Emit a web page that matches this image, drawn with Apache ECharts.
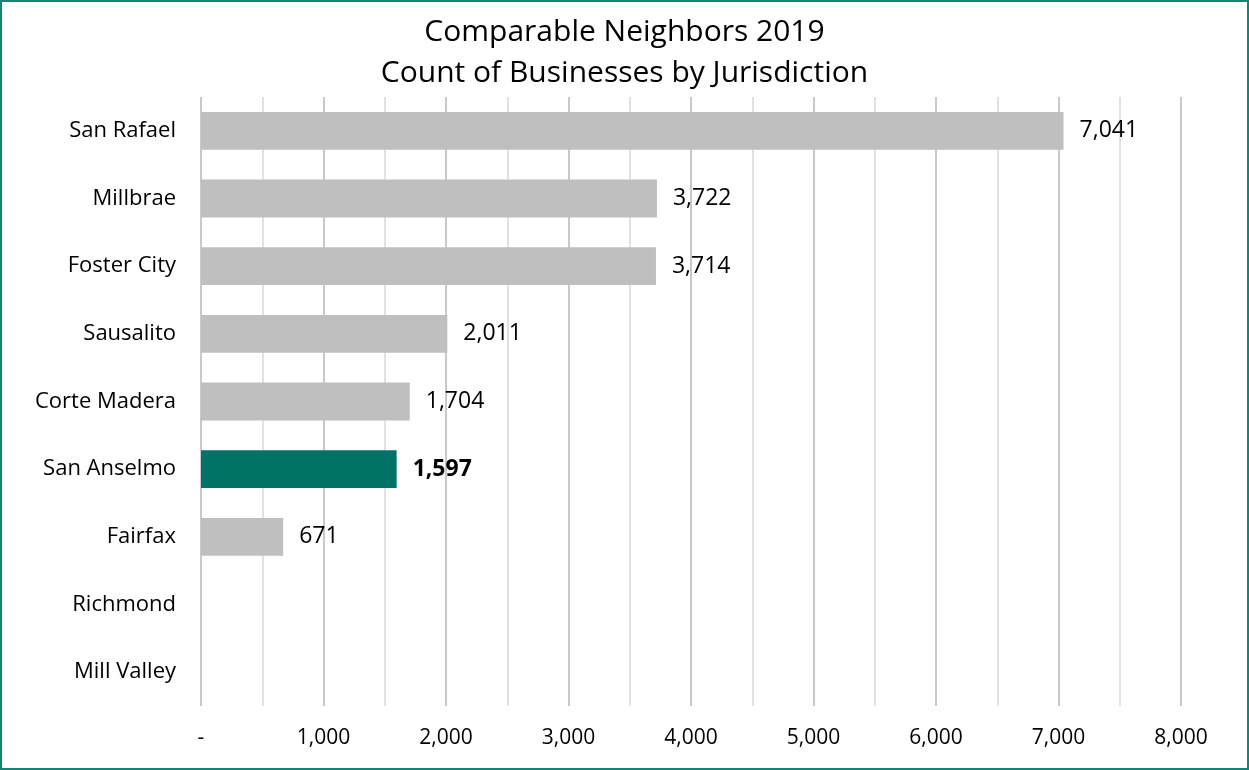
<!DOCTYPE html>
<html>
<head>
<meta charset="utf-8">
<script src="https://cdn.jsdelivr.net/npm/echarts@6/dist/echarts.min.js"></script>
<style>
  html, body { margin: 0; padding: 0; background: #fff; }
  #chart { width: 1249px; height: 770px; }
</style>
</head>
<body>
<div id="chart"></div>
<script>
// Jurisdictions, top to bottom
const categories = ['San Rafael', 'Millbrae', 'Foster City', 'Sausalito', 'Corte Madera', 'San Anselmo', 'Fairfax', 'Richmond', 'Mill Valley'];
// Count of businesses (no data for Richmond and Mill Valley)
const counts = [7041, 3722, 3714, 2011, 1704, 1597, 671, null, null];
const highlight = 'San Anselmo';

const FONT = '"Open Sans", "Noto Sans", sans-serif';
const chart = echarts.init(document.getElementById('chart'));

const fmt = v => v.toLocaleString('en-US');

chart.setOption({
  animation: false,
  textStyle: { fontFamily: FONT },
  title: {
    text: 'Comparable Neighbors 2019\nCount of Businesses by Jurisdiction',
    left: 'center',
    top: 7,
    textStyle: { fontFamily: FONT, fontSize: 30, fontWeight: 'normal', color: '#000', lineHeight: 41 }
  },
  graphic: [{
    type: 'rect',
    shape: { x: 1, y: 1, width: 1247, height: 768 },
    style: { fill: 'none', stroke: '#138574', lineWidth: 2 },
    silent: true
  }],
  grid: { left: 201, right: 68, top: 97, bottom: 64, containLabel: false },
  xAxis: {
    type: 'value',
    min: 0, max: 8000, interval: 1000,
    axisLine: { show: false },
    axisTick: { show: false },
    axisLabel: {
      fontFamily: FONT, fontSize: 21, color: '#000', margin: 22,
      formatter: v => v === 0 ? '-' : fmt(v)
    },
    splitLine: { show: true, lineStyle: { color: '#c9c9c9', width: 2 } },
    minorTick: { show: false, splitNumber: 2 },
    minorSplitLine: { show: true, lineStyle: { color: '#e2e2e2', width: 2 } }
  },
  yAxis: {
    type: 'category',
    data: categories,
    inverse: true,
    axisLine: { show: false },
    axisTick: { show: false },
    axisLabel: { fontFamily: FONT, fontSize: 22, color: '#000', margin: 25 }
  },
  series: [{
    type: 'bar',
    barCategoryGap: '44%',
    data: counts.map((v, i) => ({
      value: v,
      itemStyle: { color: categories[i] === highlight ? '#007366' : '#bfbfbf' },
      label: categories[i] === highlight ? { fontWeight: 'bold' } : {}
    })),
    label: {
      show: true,
      position: 'right',
      distance: 16,
      fontFamily: FONT, fontSize: 23, color: '#000',
      formatter: p => p.value == null ? '' : fmt(p.value)
    }
  }]
});
</script>
</body>
</html>
